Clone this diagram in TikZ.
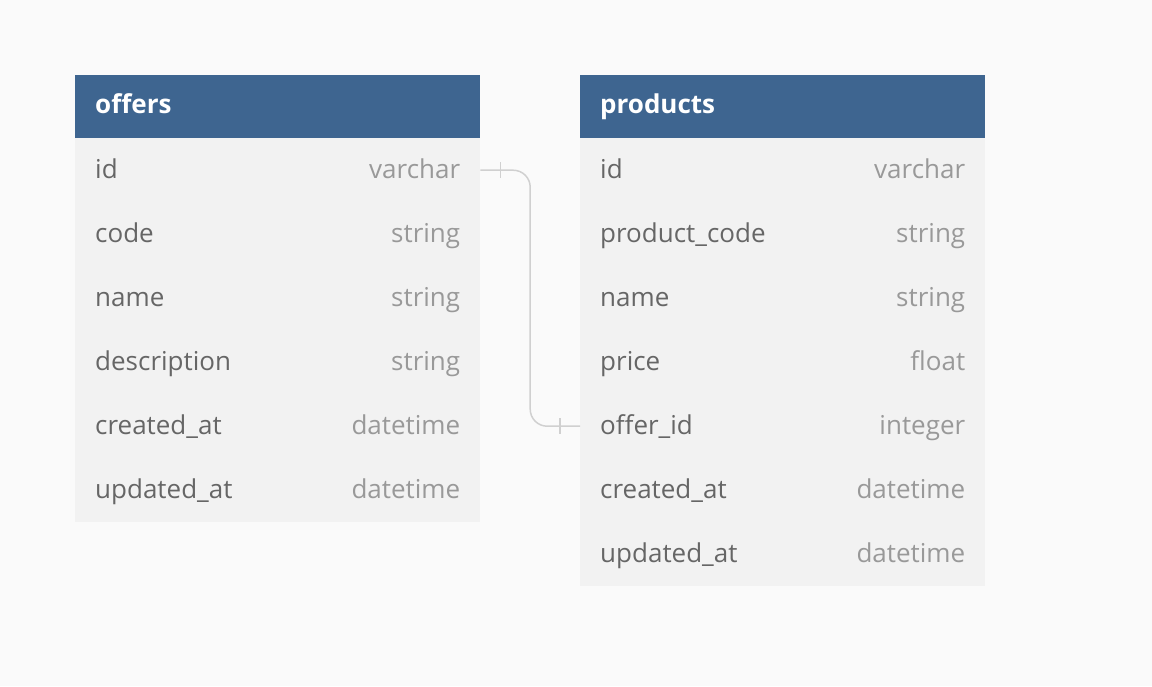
\documentclass[tikz,border=0pt]{standalone}
\usepackage{fontspec}
\setmainfont{Open Sans}
\usetikzlibrary{positioning,calc}

\definecolor{pagebg}{HTML}{FAFAFA}
\definecolor{headblue}{HTML}{3E6590}
\definecolor{rowgray}{HTML}{F2F2F2}
\definecolor{namegray}{HTML}{666666}
\definecolor{typegray}{HTML}{999999}
\definecolor{linkgray}{HTML}{D0D0D0}

\tikzset{
    tablehead/.style={fill=headblue, anchor=north west, minimum width=405pt, minimum height=63pt, inner sep=0pt},
    headtext/.style={text=white, font=\fontsize{26}{30}\selectfont\bfseries, anchor=west, inner sep=0pt, text height=19pt, text depth=6pt},
    tablerow/.style={fill=rowgray, anchor=north west, minimum width=405pt, minimum height=64pt, inner sep=0pt},
    fieldname/.style={text=namegray, font=\fontsize{26}{30}\selectfont, anchor=west, inner sep=0pt, text height=21pt, text depth=5pt},
    fieldtype/.style={text=typegray, font=\fontsize{26}{30}\selectfont, anchor=east, inner sep=0pt, text height=21pt, text depth=5pt},
    linkline/.style={draw=linkgray, line width=1.5pt},
}

\begin{document}
\begin{tikzpicture}[x=1pt,y=-1pt]
    \fill[pagebg] (0,0) rectangle (1152,686);

    % offers table
    \node[tablehead] (offers) at (75,75) {};
    \node[headtext] at ([xshift=20pt]offers.west) {offers};
    \foreach \fname/\ftype/\key [count=\i] in {id/varchar/id, code/string/code, name/string/name, description/string/description, created\_at/datetime/createdat, updated\_at/datetime/updatedat} {
        \node[tablerow] (offers-\key) at (75,{138+64*(\i-1)}) {};
        \node[fieldname] at ([xshift=20pt]offers-\key.west) {\fname};
        \node[fieldtype] at ([xshift=-20pt]offers-\key.east) {\ftype};
    }

    % products table
    \node[tablehead] (products) at (580,75) {};
    \node[headtext] at ([xshift=20pt]products.west) {products};
    \foreach \fname/\ftype/\key [count=\i] in {id/varchar/id, product\_code/string/productcode, name/string/name, price/float/price, offer\_id/integer/offerid, created\_at/datetime/createdat, updated\_at/datetime/updatedat} {
        \node[tablerow] (products-\key) at (580,{138+64*(\i-1)}) {};
        \node[fieldname] at ([xshift=20pt]products-\key.west) {\fname};
        \node[fieldtype] at ([xshift=-20pt]products-\key.east) {\ftype};
    }

    % relation offers.id -- products.offer_id
    \coordinate (bend) at ($(offers-id.east)!0.5!(products-offerid.west)$);
    \draw[linkline, rounded corners=17pt] (offers-id.east) -- (offers-id.east -| bend)
        -- (bend |- products-offerid.west) -- (products-offerid.west);
    \draw[linkline] ([xshift=20pt]offers-id.east) ++(0,-8) -- ++(0,16);
    \draw[linkline] ([xshift=-20pt]products-offerid.west) ++(0,-8) -- ++(0,16);
\end{tikzpicture}
\end{document}
